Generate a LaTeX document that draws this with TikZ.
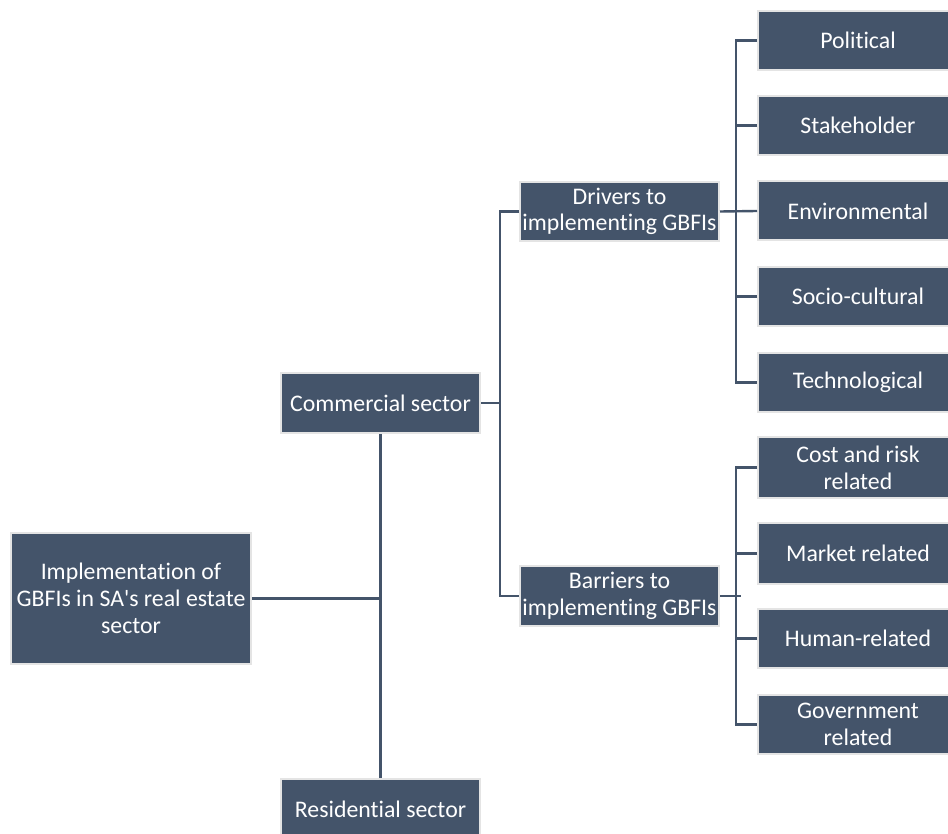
\documentclass[tikz,border=0pt]{standalone}
\usepackage{fontspec}
\newfontfamily\carl{Carlito}[Ligatures=NoCommon]
\definecolor{boxfill}{HTML}{44546A}
\definecolor{boxedge}{HTML}{E4E4E4}
\begin{document}
\begin{tikzpicture}[x=1pt,y=-1pt,
  box/.style={rectangle, fill=boxfill, draw=boxedge, line width=2pt, inner sep=0pt,
    text=white, align=center, font=\carl\fontsize{23.8}{26.7}\selectfont},
  conn/.style={draw=boxfill, line width=2.4pt}]
\useasboundingbox (0,0) rectangle (948,834);
\begin{scope}
\clip (0,0) rectangle (948,834);
% left and middle
\node[box, minimum width=240, minimum height=131] (root) at (131,598.5) {Implementation of\\GBFIs in SA's real estate\\sector};
\node[box, minimum width=199, minimum height=60] (comm) at (380.5,403) {Commercial sector};
\node[box, minimum width=199, minimum height=60] (res) at (380.5,809) {Residential sector};
\node[box, minimum width=199, minimum height=59] (drv) at (619.5,211.5) {Drivers to\\implementing GBFIs};
\node[box, minimum width=199, minimum height=60] (bar) at (619.5,596) {Barriers to\\implementing GBFIs};
% drivers
\node[box, minimum width=200, minimum height=59] (pol) at (858,40.5) {Political};
\node[box, minimum width=200, minimum height=59] (stk) at (858,125.5) {Stakeholder};
\node[box, minimum width=200, minimum height=59] (env) at (858,211) {Environmental};
\node[box, minimum width=200, minimum height=59] (soc) at (858,296.5) {Socio-cultural};
\node[box, minimum width=200, minimum height=59] (tec) at (858,382.5) {Technological};
% barriers
\node[box, minimum width=200, minimum height=61] (cst) at (858,467.5) {Cost and risk\\related};
\node[box, minimum width=200, minimum height=61] (mkt) at (858,553.5) {Market related};
\node[box, minimum width=200, minimum height=59] (hum) at (858,638.5) {Human-related};
\node[box, minimum width=200, minimum height=59] (gov) at (858,724.5) {Government\\related};
\end{scope}
% connectors
\draw[conn] (comm.south) -- (res.north);
\draw[conn] (root.east) -- (root.east -| comm.south);
\draw[conn] (comm.east) -- ++(19,0) coordinate (cb);
\draw[conn] (drv.west) -| (cb) |- (bar.west);
\draw[conn] (drv.east) -- (env.west);
\draw[conn] (pol.west) -- ++(-21,0) |- (tec.west);
\draw[conn] (stk.west) -- ++(-21,0);
\draw[conn] (soc.west) -- ++(-21,0);
\draw[conn] (bar.east) -- ++(21,0) coordinate (bb);
\draw[conn] (cst.west) -- ++(-21,0) |- (gov.west);
\draw[conn] (mkt.west) -- ++(-21,0);
\draw[conn] (hum.west) -- ++(-21,0);
\end{tikzpicture}
\end{document}
